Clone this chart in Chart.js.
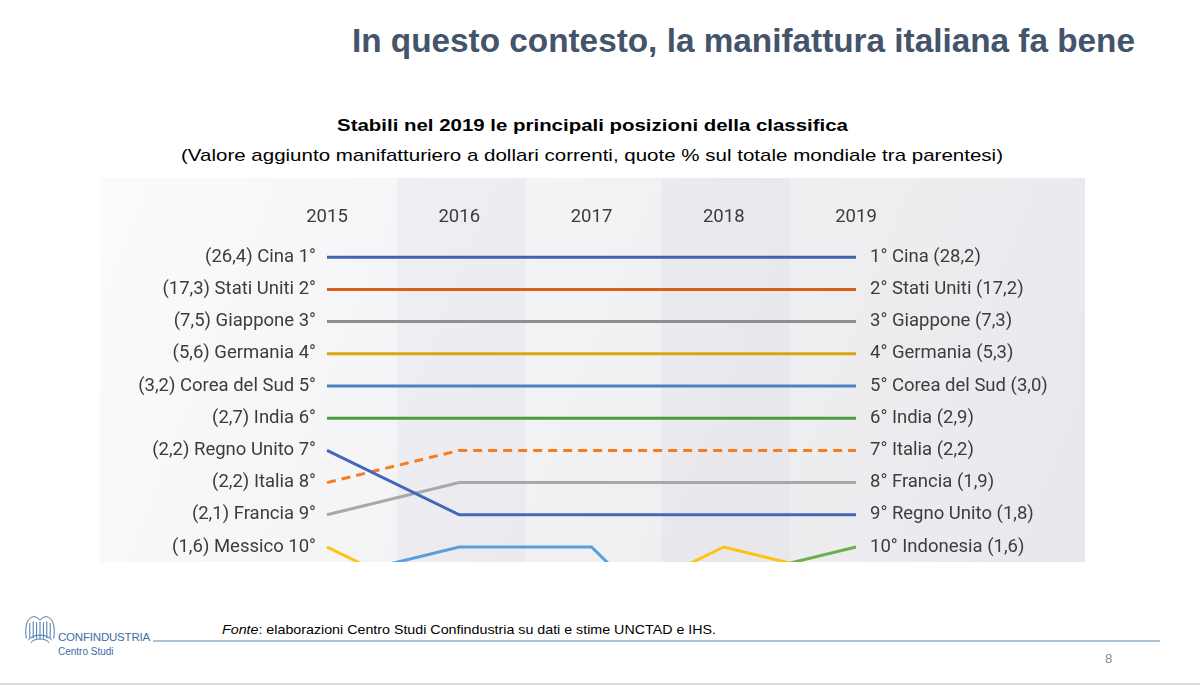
<!DOCTYPE html>
<html>
<head>
<meta charset="utf-8">
<script src="https://cdn.jsdelivr.net/npm/chart.js@4"></script>
<style>
  html, body { margin:0; padding:0; background:#ffffff; }
  #slide { position:relative; width:1200px; height:686px; overflow:hidden; background:#fff; }
  .txt { position:absolute; white-space:nowrap; line-height:1; }
  #mainTitle { left:352px; top:24px; font-family:"Liberation Sans Narrow","Liberation Sans",Arial,sans-serif; font-weight:bold; font-size:33px; color:#44546a; transform-origin:left top; }
  #cTitle { top:117px; font-family:"Liberation Sans",Arial,sans-serif; font-weight:bold; font-size:17px; color:#000; transform-origin:left top; }
  #cSub { top:147px; font-family:"Liberation Sans",Arial,sans-serif; font-size:17px; color:#000; transform-origin:left top; }
  #fonte { left:222px; top:623px; font-family:"Liberation Sans",Arial,sans-serif; font-size:13px; color:#000; transform-origin:left top; }
  #chartBox { position:absolute; left:100px; top:178px; width:985px; height:384px; overflow:hidden; }
  #footLine { position:absolute; left:153px; top:640px; width:1007px; height:2px; background:#a7c3d8; }
  #bottomLine { position:absolute; left:0; top:683px; width:1200px; height:2px; background:#dcdcdc; }
  #pageNum { left:1105px; top:652px; font-family:"Liberation Sans",Arial,sans-serif; font-size:13px; color:#8a8a8a; }
  #confTxt { left:58px; top:632px; font-family:"Liberation Sans",Arial,sans-serif; font-size:11.5px; color:#3a6ea5; letter-spacing:-0.2px; }
  #csTxt { left:58px; top:647px; font-family:"Liberation Sans",Arial,sans-serif; font-size:10px; color:#3a6ea5; }
</style>
</head>
<body>
<div id="slide">
  <div id="mainTitle" class="txt">In questo contesto, la manifattura italiana fa bene</div>
  <div id="cTitle" class="txt">Stabili nel 2019 le principali posizioni della classifica</div>
  <div id="cSub" class="txt">(Valore aggiunto manifatturiero a dollari correnti, quote % sul totale mondiale tra parentesi)</div>
  <div id="chartBox"><canvas id="c" width="985" height="384"></canvas></div>
  <svg style="position:absolute;left:23px;top:612px" width="34" height="36" viewBox="0 0 40 36">
    <g fill="none" stroke="#3a6ea5" stroke-width="1.1">
      <path d="M4 28 C2 16 4 6 10 3 C14 1 17 4 20 6 C23 4 26 1 30 3 C36 6 38 16 36 28"/>
      <path d="M8 28 L8 10 M12 28 L12 8 M16 28 L16 9 M20 28 L20 8 M24 28 L24 9 M28 28 L28 8 M32 28 L32 10"/>
      <path d="M6 30 C12 22 28 22 34 30"/>
      <path d="M9 33 C14 27 26 27 31 33"/>
    </g>
  </svg>
  <div id="confTxt" class="txt">CONFINDUSTRIA</div>
  <div id="csTxt" class="txt">Centro Studi</div>
  <div id="footLine"></div>
  <div id="fonte" class="txt"><i>Fonte</i>: elaborazioni Centro Studi Confindustria su dati e stime UNCTAD e IHS.</div>
  <div id="pageNum" class="txt">8</div>
  <div id="bottomLine"></div>
</div>
<script>
// ---- data ----
const years = ['2015', '2016', '2017', '2018', '2019'];
const countries = ['Cina', 'Stati Uniti', 'Giappone', 'Germania', 'Corea del Sud', 'India',
                   'Regno Unito', 'Italia', 'Francia', 'Messico', 'Brasile', 'Indonesia'];
const rankCina        = [1, 1, 1, 1, 1];
const rankStatiUniti  = [2, 2, 2, 2, 2];
const rankGiappone    = [3, 3, 3, 3, 3];
const rankGermania    = [4, 4, 4, 4, 4];
const rankCorea       = [5, 5, 5, 5, 5];
const rankIndia       = [6, 6, 6, 6, 6];
const rankRegnoUnito  = [7, 9, 9, 9, 9];
const rankItalia      = [8, 7, 7, 7, 7];
const rankFrancia     = [9, 8, 8, 8, 8];
const rankMessico     = [10, 12, 12, 10, 11];
const rankBrasile     = [11, 10, 10, 14, 13];
const rankIndonesia   = [12, 11, 11, 11, 10];
const ranks = [1, 2, 3, 4, 5, 6, 7, 8, 9, 10];
const labels2015 = ['(26,4) Cina 1°', '(17,3) Stati Uniti 2°', '(7,5) Giappone 3°', '(5,6) Germania 4°',
  '(3,2) Corea del Sud 5°', '(2,7) India 6°', '(2,2) Regno Unito 7°', '(2,2) Italia 8°',
  '(2,1) Francia 9°', '(1,6) Messico 10°'];
const labels2019 = ['1° Cina (28,2)', '2° Stati Uniti (17,2)', '3° Giappone (7,3)', '4° Germania (5,3)',
  '5° Corea del Sud (3,0)', '6° India (2,9)', '7° Italia (2,2)', '8° Francia (1,9)',
  '9° Regno Unito (1,8)', '10° Indonesia (1,6)'];

// ---- styles ----
const seriesData = [rankCina, rankStatiUniti, rankGiappone, rankGermania, rankCorea, rankIndia,
  rankRegnoUnito, rankItalia, rankFrancia, rankMessico, rankBrasile, rankIndonesia];
const colors = ['#4161b1', '#d4601a', '#8e8e8e', '#dba510', '#4a80c4', '#4b9b3d',
  '#4467bb', '#f67c22', '#a8a8a8', '#ffc20e', '#5a9fdc', '#6ab04c'];

// ---- text fitting ----
function fitWidth(id, width, centerX) {
  const el = document.getElementById(id);
  const w = el.getBoundingClientRect().width;
  const s = width / w;
  el.style.transform = 'scaleX(' + s + ')';
  if (centerX !== undefined) el.style.left = (centerX - width / 2) + 'px';
}
fitWidth('mainTitle', 783);
fitWidth('cTitle', 511, 592.5);
fitWidth('cSub', 822, 592);
fitWidth('fonte', 494);

// ---- background plugin ----
const bgPlugin = {
  id: 'bg',
  beforeDraw(chart) {
    const { ctx, width, height, scales } = chart;
    ctx.save();
    const g = ctx.createLinearGradient(0, 0, width, height);
    g.addColorStop(0, '#fbfbfc');
    g.addColorStop(1, '#e8e8ec');
    ctx.fillStyle = g;
    ctx.fillRect(0, 0, width, height);
    const x = scales.x;
    const step = x.getPixelForValue(1) - x.getPixelForValue(0);
    ctx.fillStyle = 'rgba(190,190,205,0.13)';
    [1, 3].forEach(i => {
      const cx = x.getPixelForValue(i);
      ctx.fillRect(cx - step / 2 + 4, 0, step - 4, height);
    });
    ctx.restore();
  }
};

const tickFont = { family: 'Roboto', size: 18.5 };
const tickColor = '#3c3c3c';
const unit = 32.2;
const topH = 47;

function noPad(s) { s.paddingTop = 0; s.paddingBottom = 0; s.paddingLeft = 0; s.paddingRight = 0; }

new Chart(document.getElementById('c'), {
  type: 'line',
  data: {
    labels: years,
    datasets: countries.map((name, i) => ({
      label: name,
      data: seriesData[i],
      borderColor: colors[i],
      borderWidth: 3,
      borderDash: name === 'Italia' ? [9, 6] : [],
      pointRadius: 0,
      tension: 0,
      fill: false,
      yAxisID: 'yL'
    }))
  },
  options: {
    responsive: false,
    animation: false,
    layout: { padding: 0 },
    plugins: { legend: { display: false }, tooltip: { enabled: false } },
    scales: {
      x: {
        type: 'category',
        position: 'top',
        offset: false,
        grid: { display: false, drawTicks: false },
        border: { display: false },
        ticks: { color: tickColor, font: tickFont, padding: -3, maxRotation: 0 },
        afterFit(s) { s.height = topH; noPad(s); }
      },
      yL: {
        type: 'linear',
        position: 'left',
        reverse: true,
        min: 0,
        max: (384 - topH) / unit,
        grid: { display: false, drawTicks: false },
        border: { display: false },
        afterBuildTicks(s) { s.ticks = ranks.map(v => ({ value: v })); },
        ticks: { color: tickColor, font: tickFont, padding: 11, autoSkip: false,
                 callback: (v) => labels2015[ranks.indexOf(v)] || '' },
        afterFit(s) { s.width = 227; noPad(s); }
      },
      yR: {
        type: 'linear',
        position: 'right',
        reverse: true,
        min: 0,
        max: (384 - topH) / unit,
        grid: { display: false, drawTicks: false },
        border: { display: false },
        afterBuildTicks(s) { s.ticks = ranks.map(v => ({ value: v })); },
        ticks: { color: tickColor, font: tickFont, padding: 14, autoSkip: false,
                 callback: (v) => labels2019[ranks.indexOf(v)] || '' },
        afterFit(s) { s.width = 229; noPad(s); }
      }
    }
  },
  plugins: [bgPlugin]
});
</script>
</body>
</html>
